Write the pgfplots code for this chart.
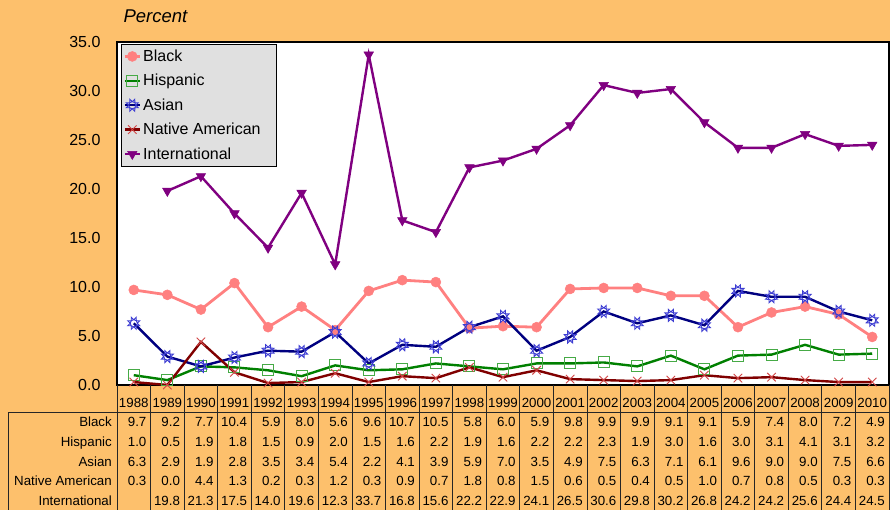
\documentclass[border=0pt]{standalone}
\usepackage{fontspec}
\setmainfont{Liberation Sans}
\usepackage{pgfplots}
\pgfplotsset{compat=1.18}
\definecolor{bg}{RGB}{253,192,108}
\definecolor{cblack}{RGB}{255,128,128}
\definecolor{chisp}{RGB}{0,128,0}
\definecolor{chispm}{RGB}{70,170,70}
\definecolor{casian}{RGB}{0,0,128}
\definecolor{casianm}{RGB}{60,60,210}
\definecolor{cnat}{RGB}{128,0,0}
\definecolor{cnatm}{RGB}{210,70,70}
\definecolor{cintl}{RGB}{128,0,128}
\definecolor{legbg}{RGB}{224,224,224}
\pgfdeclareplotmark{sunmark}{%
  \pgfpathcircle{\pgfpointorigin}{0.55\pgfplotmarksize}%
  \foreach \a in {0,45,...,315}{%
    \pgfpathmoveto{\pgfpointpolar{\a}{0.55\pgfplotmarksize}}%
    \pgfpathlineto{\pgfpointpolar{\a+22.5}{1.0\pgfplotmarksize}}%
    \pgfpathlineto{\pgfpointpolar{\a+45}{0.55\pgfplotmarksize}}%
  }%
  \pgfusepathqstroke}
\newcommand\tabfont{\fontsize{13.3}{15}\selectfont}
\begin{document}
\begin{tikzpicture}[x=1pt,y=1pt]
\fill[bg] (-117,-125) rectangle (773,385);
\useasboundingbox (-117,-125) rectangle (773,385);
\begin{axis}[
  at={(0,0)}, anchor=south west,
  width=772pt, height=343pt, scale only axis,
  xmin=-0.5, xmax=22.5, ymin=0, ymax=35,
  xtick=\empty, ytick={0,5,...,35},
  ytick style={draw=none},
  yticklabel style={/pgf/number format/fixed, /pgf/number format/fixed zerofill, /pgf/number format/precision=1, /pgf/number format/assume math mode=true,
    font=\fontsize{16}{18}\selectfont, xshift=-13pt},
  axis line style={line width=1.6pt},
  axis background/.style={fill=white},
  clip=false,
  legend style={at={(axis description cs:0,1)}, anchor=north west, xshift=4pt, yshift=-2pt,
    fill=legbg, draw=black, line width=0.8pt, font=\fontsize{16}{19}\selectfont,
    inner xsep=2pt, inner ysep=3.5pt, row sep=7.3pt},
  legend cell align=left,
  legend image code/.code={\draw[mark repeat=2,mark phase=2,#1] plot coordinates {(0pt,0pt) (7.5pt,0pt) (15pt,0pt)};},
]
\addplot[cblack, line width=2.8pt, mark=*, mark size=5pt, mark options={fill=cblack, draw=cblack, line width=0.5pt}] coordinates {
(0,9.7)(1,9.2)(2,7.7)(3,10.4)(4,5.9)(5,8.0)(6,5.6)(7,9.6)(8,10.7)(9,10.5)(10,5.8)(11,6.0)(12,5.9)(13,9.8)(14,9.9)(15,9.9)(16,9.1)(17,9.1)(18,5.9)(19,7.4)(20,8.0)(21,7.2)(22,4.9)};
\addlegendentry{Black}
\addplot[chisp, line width=2.4pt, mark=square, mark size=5.5pt, mark options={draw=chispm, line width=1pt}] coordinates {
(0,1.0)(1,0.5)(2,1.9)(3,1.8)(4,1.5)(5,0.9)(6,2.0)(7,1.5)(8,1.6)(9,2.2)(10,1.9)(11,1.6)(12,2.2)(13,2.2)(14,2.3)(15,1.9)(16,3.0)(17,1.6)(18,3.0)(19,3.1)(20,4.1)(21,3.1)(22,3.2)};
\addlegendentry{Hispanic}
\addplot[casian, line width=2.4pt, mark=sunmark, mark size=6.5pt, mark options={draw=casianm, line width=0.9pt}] coordinates {
(0,6.3)(1,2.9)(2,1.9)(3,2.8)(4,3.5)(5,3.4)(6,5.4)(7,2.2)(8,4.1)(9,3.9)(10,5.9)(11,7.0)(12,3.5)(13,4.9)(14,7.5)(15,6.3)(16,7.1)(17,6.1)(18,9.6)(19,9.0)(20,9.0)(21,7.5)(22,6.6)};
\addlegendentry{Asian}
\addplot[cnat, line width=2.4pt, mark=x, mark size=6pt, mark options={draw=cnatm, line width=0.9pt}] coordinates {
(0,0.3)(1,0.0)(2,4.4)(3,1.3)(4,0.2)(5,0.3)(6,1.2)(7,0.3)(8,0.9)(9,0.7)(10,1.8)(11,0.8)(12,1.5)(13,0.6)(14,0.5)(15,0.4)(16,0.5)(17,1.0)(18,0.7)(19,0.8)(20,0.5)(21,0.3)(22,0.3)};
\addlegendentry{\makebox[129pt][l]{Native American}}
\addplot[cintl, line width=2.4pt, mark=triangle*, mark size=5.5pt, mark options={rotate=180, fill=cintl, draw=cintl, line width=0.5pt}] coordinates {
(1,19.8)(2,21.3)(3,17.5)(4,14.0)(5,19.6)(6,12.3)(7,33.7)(8,16.8)(9,15.6)(10,22.2)(11,22.9)(12,24.1)(13,26.5)(14,30.6)(15,29.8)(16,30.2)(17,26.8)(18,24.2)(19,24.2)(20,25.6)(21,24.4)(22,24.5)};
\addlegendentry{International}
\end{axis}
\node[anchor=base west, font=\fontsize{18.5}{22}\selectfont\itshape] at (3,362) {Percent};
\def\cw{33.5652}
% table grid
\foreach \k in {0,...,23} {\draw[black!85, line width=0.8pt] ({\k*\cw},0) -- ({\k*\cw},-125);}
\draw[black!85, line width=0.8pt] (-109,-27.5) -- (772,-27.5);
\draw[black!85, line width=0.8pt] (-109,-27.5) -- (-109,-125);
% years
\foreach \yr [count=\i from 0] in {1988,...,2010} {\node[anchor=base, font=\tabfont, inner sep=0pt] at ({(\i+0.5)*\cw},-23) {\yr};}
% rows
\newcommand\tabrow[3]{%
  \node[anchor=base east, font=\tabfont, inner sep=0pt] at (-5,#1) {#2};
  \foreach \v [count=\i] in {#3} {\node[anchor=base east, font=\tabfont, inner sep=0pt] at ({\i*\cw-4},#1) {\v};}}
\tabrow{-41.5}{Black}{9.7,9.2,7.7,10.4,5.9,8.0,5.6,9.6,10.7,10.5,5.8,6.0,5.9,9.8,9.9,9.9,9.1,9.1,5.9,7.4,8.0,7.2,4.9}
\tabrow{-61.3}{Hispanic}{1.0,0.5,1.9,1.8,1.5,0.9,2.0,1.5,1.6,2.2,1.9,1.6,2.2,2.2,2.3,1.9,3.0,1.6,3.0,3.1,4.1,3.1,3.2}
\tabrow{-81.1}{Asian}{6.3,2.9,1.9,2.8,3.5,3.4,5.4,2.2,4.1,3.9,5.9,7.0,3.5,4.9,7.5,6.3,7.1,6.1,9.6,9.0,9.0,7.5,6.6}
\tabrow{-100.9}{Native American}{0.3,0.0,4.4,1.3,0.2,0.3,1.2,0.3,0.9,0.7,1.8,0.8,1.5,0.6,0.5,0.4,0.5,1.0,0.7,0.8,0.5,0.3,0.3}
\tabrow{-120.7}{International}{{},19.8,21.3,17.5,14.0,19.6,12.3,33.7,16.8,15.6,22.2,22.9,24.1,26.5,30.6,29.8,30.2,26.8,24.2,24.2,25.6,24.4,24.5}
\end{tikzpicture}
\end{document}
